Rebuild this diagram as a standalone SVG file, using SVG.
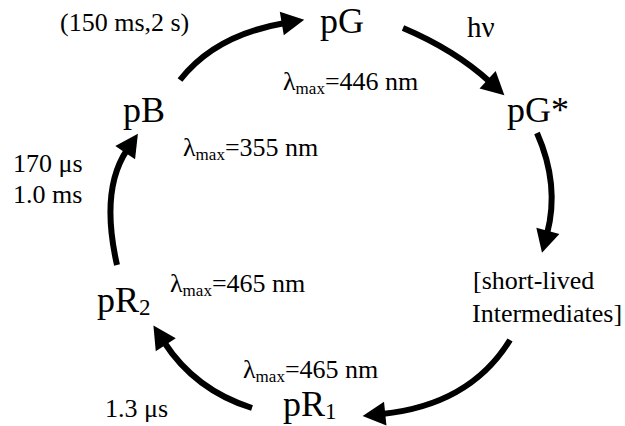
<svg xmlns="http://www.w3.org/2000/svg" width="625" height="426" viewBox="0 0 625 426">
<style>
text{font-family:"Liberation Serif","Times New Roman",serif;fill:#000}
.big{font-size:36px}
.lab{font-size:26px}
.sub{font-size:17px}
.arr{fill:none;stroke:#000;stroke-width:6}
</style>
<defs>
<marker id="ah" markerUnits="userSpaceOnUse" markerWidth="26" markerHeight="26" viewBox="0 -12 22 24" refX="3" refY="0" orient="auto">
<path d="M0,-11 L21,0 L0,11 Z" fill="#000"/>
</marker>
</defs>
<rect width="625" height="426" fill="#fff"/>
<g id="connectors">
<path class="arr" d="M180,80 Q215,35 285,23" marker-end="url(#ah)"/>
<path class="arr" d="M403,28 Q455,50 490,82" marker-end="url(#ah)"/>
<path class="arr" d="M537,133 Q560,185 547,234" marker-end="url(#ah)"/>
<path class="arr" d="M510,340 Q470,405 382,414" marker-end="url(#ah)"/>
<path class="arr" d="M252,408 Q195,390 164,342" marker-end="url(#ah)"/>
<path class="arr" d="M117,265 Q100,190 127,150" marker-end="url(#ah)"/>
</g>
<g id="pG"><text class="big" x="320" y="33">pG</text></g>
<g id="pGstar"><text class="big" x="507" y="122">pG*</text></g>
<g id="intermediates"><text class="lab" x="473" y="289">[short-lived</text><text class="lab" x="472" y="322">Intermediates]</text></g>
<g id="pR1"><text class="big" x="283" y="416">pR<tspan font-size="23" dy="3">1</tspan></text></g>
<g id="pR2"><text class="big" x="97" y="312">pR<tspan font-size="23" dy="3">2</tspan></text></g>
<g id="pB"><text class="big" x="123" y="122">pB</text></g>
<g id="labels">
<text class="lab" x="60" y="31">(150 ms,2 s)</text>
<text x="467" y="37" font-size="29">hν</text>
<text class="lab" x="283" y="90">λ<tspan class="sub" dy="4">max</tspan><tspan dy="-4">=446 nm</tspan></text>
<text class="lab" x="183" y="156">λ<tspan class="sub" dy="4">max</tspan><tspan dy="-4">=355 nm</tspan></text>
<text class="lab" x="170" y="292">λ<tspan class="sub" dy="4">max</tspan><tspan dy="-4">=465 nm</tspan></text>
<text class="lab" x="243" y="378">λ<tspan class="sub" dy="4">max</tspan><tspan dy="-4">=465 nm</tspan></text>
<text class="lab" x="13" y="172">170 μs</text>
<text class="lab" x="13" y="203">1.0 ms</text>
<text class="lab" x="105" y="417">1.3 μs</text>
</g>
</svg>
